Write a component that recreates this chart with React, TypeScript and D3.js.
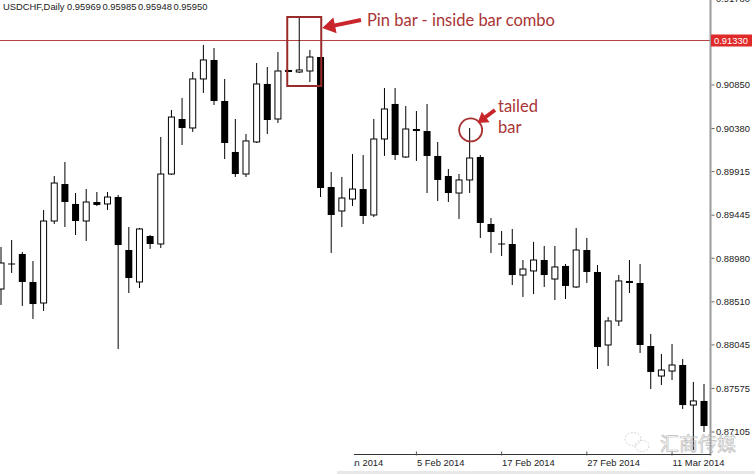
import React from "react";
import * as d3 from "d3";

const W = 755;
const H = 474;

// OHLC values, one per daily candle (oldest first)
const opens = [
  0.88648, 0.88918, 0.89026, 0.88724, 0.88497, 0.89382, 0.89781, 0.89566, 0.89382, 0.89587,
  0.89566, 0.89641, 0.89069, 0.88724, 0.8922, 0.89134, 0.89889, 0.90483, 0.90386, 0.90915,
  0.9112, 0.90677, 0.90127, 0.89889, 0.90235, 0.90861, 0.90483, 0.91012, 0.9099, 0.91001,
  0.91152, 0.89749, 0.8949, 0.89619, 0.89727, 0.89447, 0.90267, 0.90645, 0.90073, 0.90375,
  0.90353, 0.90084, 0.89868, 0.89684, 0.89825, 0.90073, 0.8935, 0.89134, 0.89134, 0.88799,
  0.88843, 0.88961, 0.88756, 0.88897, 0.8867, 0.89069, 0.88832, 0.88044, 0.88303, 0.88735,
  0.88713, 0.88033, 0.87709, 0.87763, 0.87828, 0.87396, 0.8744,
];
const highs = [
  0.89102, 0.89177, 0.89048, 0.8895, 0.89501, 0.89868, 0.90019, 0.89684, 0.89727, 0.89695,
  0.89695, 0.89663, 0.89317, 0.89307, 0.89231, 0.90289, 0.9058, 0.9071, 0.9099, 0.91282,
  0.91249, 0.90915, 0.90483, 0.90321, 0.91087, 0.91044, 0.91206, 0.91012, 0.91573, 0.91228,
  0.91152, 0.89911, 0.89857, 0.90105, 0.90094, 0.90483, 0.90817, 0.90817, 0.90623, 0.90569,
  0.90645, 0.90235, 0.89943, 0.89889, 0.90386, 0.90094, 0.89415, 0.89274, 0.89296, 0.88961,
  0.89156, 0.89112, 0.89112, 0.88918, 0.89307, 0.89199, 0.88907, 0.88346, 0.88799, 0.88961,
  0.88918, 0.88163, 0.87947, 0.88055, 0.87893, 0.87645, 0.87623,
];
const lows = [
  0.88476, 0.88821, 0.88465, 0.88325, 0.88411, 0.8935, 0.89317, 0.89231, 0.89166, 0.89544,
  0.89501, 0.88001, 0.88605, 0.88659, 0.8908, 0.89091, 0.89879, 0.90202, 0.90343, 0.90764,
  0.90634, 0.90051, 0.89857, 0.89857, 0.90224, 0.90321, 0.9044, 0.9099, 0.90979, 0.90882,
  0.89641, 0.89037, 0.89317, 0.89544, 0.8935, 0.89425, 0.90084, 0.9004, 0.90062, 0.9003,
  0.89684, 0.89598, 0.89587, 0.89404, 0.89684, 0.89199, 0.89037, 0.89004, 0.88691, 0.88562,
  0.88594, 0.8867, 0.8853, 0.8854, 0.88659, 0.88713, 0.87785, 0.87817, 0.88249, 0.88605,
  0.87958, 0.87569, 0.87612, 0.87666, 0.87353, 0.86911, 0.87105,
];
const closes = [
  0.88929, 0.88918, 0.88724, 0.88486, 0.89382, 0.89792, 0.89587, 0.89382, 0.89587, 0.89555,
  0.89641, 0.89123, 0.88767, 0.89296, 0.89134, 0.89889, 0.90504, 0.90386, 0.90915, 0.9112,
  0.90677, 0.90224, 0.89889, 0.90246, 0.90861, 0.90472, 0.91001, 0.9099, 0.91012, 0.91152,
  0.89738, 0.89447, 0.8963, 0.89727, 0.89436, 0.90267, 0.90591, 0.90094, 0.90375, 0.90353,
  0.90084, 0.89825, 0.89684, 0.89825, 0.90062, 0.89361, 0.89263, 0.89134, 0.88799, 0.88864,
  0.88961, 0.88799, 0.88886, 0.88681, 0.89069, 0.88832, 0.88022, 0.88303, 0.88735, 0.88713,
  0.88044, 0.87753, 0.87774, 0.87828, 0.87396, 0.8744, 0.8717,
];

const priceTicks = [0.9178, 0.9085, 0.9038, 0.89915, 0.89445, 0.8898, 0.8851, 0.88045, 0.87575, 0.87105];
const currentPrice = 0.9133;
const dateTickIndex = [31, 39, 47, 55, 63];
const dateTickLabels = ["24 Jan 2014", "5 Feb 2014", "17 Feb 2014", "27 Feb 2014", "11 Mar 2014"];
const symbolLabel = "USDCHF,Daily";
const headerValues = ["0.95969", "0.95985", "0.95948", "0.95950"];
const pinBarIndex = 28;
const tailedBarIndex = 44;

function arrowPath(tx: number, ty: number, hx: number, hy: number, shaft: number, headLen: number, headW: number) {
  const dx = hx - tx;
  const dy = hy - ty;
  const len = Math.hypot(dx, dy);
  const ux = dx / len;
  const uy = dy / len;
  const px = -uy;
  const py = ux;
  const bx = hx - ux * headLen;
  const by = hy - uy * headLen;
  const pts = [
    [tx + px * shaft / 2, ty + py * shaft / 2],
    [bx + px * shaft / 2, by + py * shaft / 2],
    [bx + px * headW / 2, by + py * headW / 2],
    [hx, hy],
    [bx - px * headW / 2, by - py * headW / 2],
    [bx - px * shaft / 2, by - py * shaft / 2],
    [tx - px * shaft / 2, ty - py * shaft / 2],
  ];
  return "M" + pts.map((p) => p[0].toFixed(2) + "," + p[1].toFixed(2)).join("L") + "Z";
}

export default function App() {
  const n = opens.length;
  const x = d3.scaleLinear().domain([0, n - 1]).range([1, 704]);
  const y = d3.scaleLinear().domain([0.87105, 0.9133]).range([432, 40.5]);
  const bodyW = 7;
  const axisX = 710.5;
  const axisY = 454.5;
  const font = "'Liberation Sans', Arial, sans-serif";
  const annFont = "Lato, 'Open Sans', sans-serif";
  const red = "#a93535";

  const candles = d3.range(n).map((i) => ({
    i,
    o: opens[i],
    h: highs[i],
    l: lows[i],
    c: closes[i],
  }));

  const pinX = x(pinBarIndex);
  const tailX = x(tailedBarIndex);
  const tailY = y(highs[tailedBarIndex]);

  return (
    <svg
      width={W}
      height={H}
      style={{ position: "fixed", left: 0, top: 0, background: "#fff" }}
      xmlns="http://www.w3.org/2000/svg"
    >
      <defs>
        <clipPath id="plot">
          <rect x={0} y={0} width={axisX - 1} height={axisY} />
        </clipPath>
        <clipPath id="dateclip">
          <rect x={354} y={440} width={400} height={34} />
        </clipPath>
      </defs>
      <rect x={0} y={0} width={W} height={H} fill="#fff" />

      {/* header */}
      <text x={3} y={9.5} fontFamily={font} fontSize={9.4} fill="#222">{symbolLabel}</text>
      {headerValues.map((v, k) => (
        <text key={v + k} x={67 + k * 35.5} y={9.5} fontFamily={font} fontSize={9.4} fill="#222">{v}</text>
      ))}

      {/* current price line */}
      <line x1={0} x2={axisX} y1={y(currentPrice)} y2={y(currentPrice)} stroke="#b54545" strokeWidth={1} />

      {/* candles */}
      <g clipPath="url(#plot)">
        {candles.map((d) => {
          const cx = x(d.i);
          const up = d.c > d.o;
          const top = y(Math.max(d.o, d.c));
          const bot = y(Math.min(d.o, d.c));
          const bh = Math.max(bot - top, 1);
          return (
            <g key={d.i}>
              <line x1={cx} x2={cx} y1={y(d.h)} y2={y(d.l)} stroke="#000" strokeWidth={1} />
              {up ? (
                <rect x={cx - bodyW / 2 + 0.5} y={top} width={bodyW - 1} height={bh} fill="#fff" stroke="#000" strokeWidth={1} />
              ) : d.c === d.o ? (
                <rect x={cx - bodyW / 2} y={top - 0.5} width={bodyW} height={1} fill="#000" />
              ) : (
                <rect x={cx - bodyW / 2} y={top} width={bodyW} height={bh} fill="#000" />
              )}
            </g>
          );
        })}
      </g>

      {/* right price axis */}
      <line x1={axisX} x2={axisX} y1={0} y2={axisY + 1} stroke="#9a9a9a" strokeWidth={2} />
      {priceTicks.map((p) => (
        <g key={p}>
          <line x1={axisX + 1} x2={axisX + 4} y1={y(p)} y2={y(p)} stroke="#666" strokeWidth={1} />
          <text x={716} y={y(p)} dy="0.35em" fontFamily={font} fontSize={9.4} fill="#222">
            {p.toFixed(5)}
          </text>
        </g>
      ))}
      <rect x={711} y={y(currentPrice) - 6} width={41} height={12} fill="#e02a2a" />
      <text x={714} y={y(currentPrice)} dy="0.35em" fontFamily={font} fontSize={9.4} fill="#fff">
        {currentPrice.toFixed(5)}
      </text>

      {/* bottom date axis */}
      <line x1={354} x2={axisX} y1={axisY} y2={axisY} stroke="#333" strokeWidth={1} />
      <g clipPath="url(#dateclip)">
        {dateTickIndex.map((idx, k) => (
          <g key={idx}>
            <line x1={x(idx)} x2={x(idx)} y1={axisY - 3} y2={axisY + 1} stroke="#555" strokeWidth={1} />
            <text x={x(idx) + 0.5} y={463} dy="0.35em" fontFamily={font} fontSize={9.4} fill="#222">
              {dateTickLabels[k]}
            </text>
          </g>
        ))}
      </g>
      <rect x={337} y={471} width={W - 337} height={3} fill="#e8e8e8" />

      {/* pin bar annotation */}
      <rect x={pinX - 12} y={17} width={34} height={69} fill="none" stroke="#9a2b2b" strokeWidth={2} />
      <path d={arrowPath(361, 20, pinX + 23, 28, 4, 13, 16)} fill="#c8262b" />
      <text x={367} y={25.5} fontFamily={annFont} fontSize={16.5} fill={red}>Pin bar - inside bar combo</text>

      {/* tailed bar annotation */}
      <circle cx={tailX + 1} cy={tailY + 2} r={11.5} fill="none" stroke="#a83232" strokeWidth={1.8} />
      <path d={arrowPath(495, 110, tailX + 8, 123, 4, 10, 13)} fill="#c8262b" />
      <text x={498} y={112} fontFamily={annFont} fontSize={16.5} fill={red}>tailed</text>
      <text x={498} y={133} fontFamily={annFont} fontSize={16.5} fill={red}>bar</text>

      {/* watermark */}
      <g opacity={0.75}>
        <ellipse cx={633} cy={439} rx={8} ry={6.5} fill="none" stroke="#b8b8b8" strokeWidth={0.8} strokeDasharray="2 1.5" />
        <ellipse cx={642} cy={446} rx={7} ry={5.5} fill="none" stroke="#b8b8b8" strokeWidth={0.8} strokeDasharray="2 1.5" />
        <text x={660} y={451} fontFamily="'Noto Sans CJK SC', sans-serif" fontSize={19} fill="rgba(255,255,255,0.4)" stroke="#a8a8a8" strokeWidth={0.7}>
          汇商传媒
        </text>
      </g>
    </svg>
  );
}
